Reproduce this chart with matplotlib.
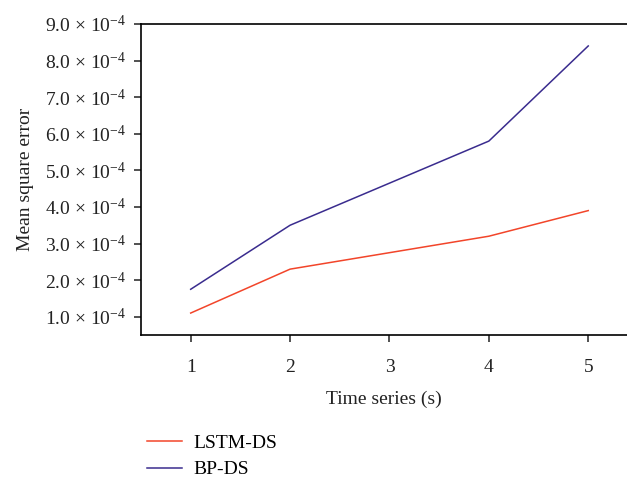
import matplotlib
matplotlib.use("Agg")
import matplotlib.pyplot as plt
from matplotlib.ticker import FixedLocator, FuncFormatter

plt.rcParams['font.family'] = ['Liberation Serif', 'DejaVu Serif']
plt.rcParams['mathtext.fontset'] = 'custom'
plt.rcParams['mathtext.rm'] = 'Liberation Serif'
plt.rcParams['mathtext.it'] = 'Liberation Serif:italic'

x_vals = [1, 2, 4, 5]
lstm_ds = [1.1e-4, 2.3e-4, 3.2e-4, 3.9e-4]
bp_ds = [1.75e-4, 3.5e-4, 5.8e-4, 8.4e-4]
x_ticks = [1, 2, 3, 4, 5]
y_ticks = [1e-4, 2e-4, 3e-4, 4e-4, 5e-4, 6e-4, 7e-4, 8e-4, 9e-4]

fig = plt.figure(figsize=(6.27, 4.82), dpi=100)
ax = fig.add_axes([141/627, 1-335/482, 1-141/627, (335-24)/482])

l1, = ax.plot(x_vals, lstm_ds, color='#f2452a', lw=1.1, label='LSTM-DS')
l2, = ax.plot(x_vals, bp_ds, color='#3a2c8e', lw=1.1, label='BP-DS')

ax.set_xlim(0.5, 5.39)
ax.set_ylim(0.5e-4, 9e-4)
ax.xaxis.set_major_locator(FixedLocator(x_ticks))
ax.yaxis.set_major_locator(FixedLocator(y_ticks))
ax.yaxis.set_major_formatter(FuncFormatter(lambda v, p: '%.1f \u00d7 10$^{-4}$' % (v * 1e4)))

ax.spines['right'].set_visible(False)
for s in ['left', 'bottom', 'top']:
    ax.spines[s].set_linewidth(1.2)
ax.tick_params(direction='out', length=5, width=1.1, labelsize=14, colors='#222222', pad=6)
ax.tick_params(axis='x', pad=12)

ax.set_xlabel('Time series (s)', fontsize=14, labelpad=11, color='#222222')
ax.set_ylabel('Mean square error', fontsize=14, labelpad=8, color='#222222')

fig.legend(handles=[l1, l2], loc='upper left', bbox_to_anchor=(129/627, 1-417/482),
           frameon=False, fontsize=14, handlelength=1.8, labelspacing=0.45, handletextpad=0.6)

fig.savefig('out.png', dpi=100)
